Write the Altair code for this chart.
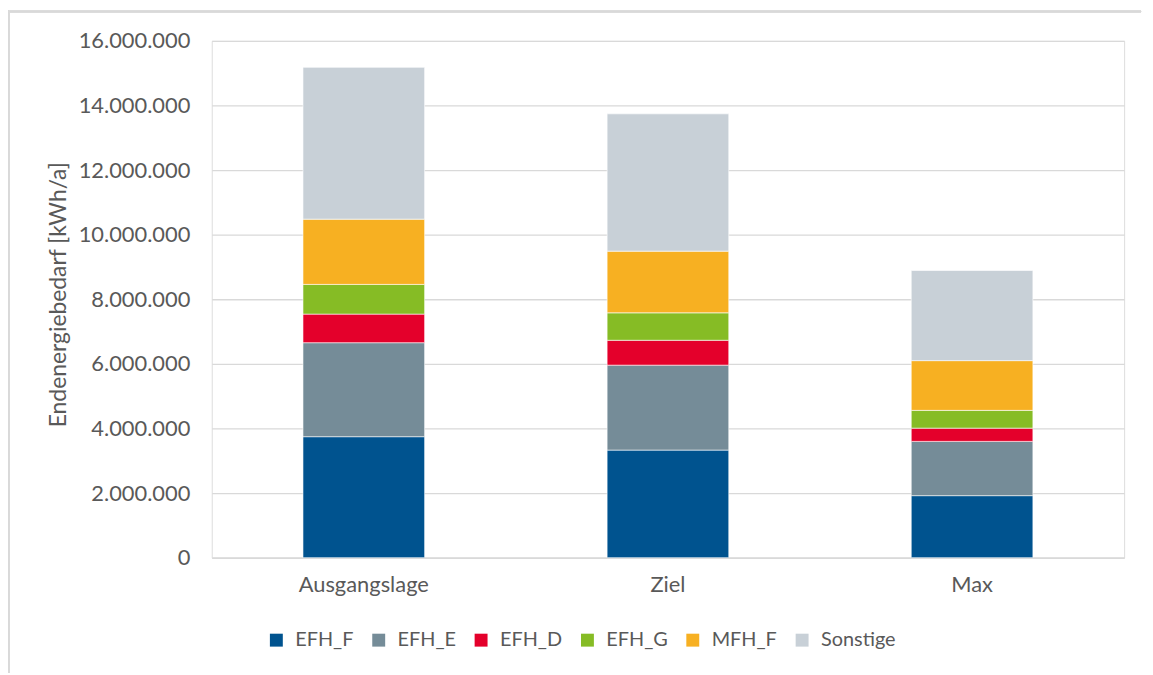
import altair as alt
import pandas as pd

categories = ["Ausgangslage", "Ziel", "Max"]
series = ["EFH_F", "EFH_E", "EFH_D", "EFH_G", "MFH_F", "Sonstige"]
colors = ["#00538F", "#758C98", "#E4002B", "#86BC25", "#F7B022", "#C8D0D7"]

EFH_F = [3745000, 3330000, 1920000]
EFH_E = [2910000, 2630000, 1680000]
EFH_D = [885000, 770000, 410000]
EFH_G = [920000, 850000, 550000]
MFH_F = [2020000, 1910000, 1540000]
Sonstige = [4700000, 4250000, 2790000]

values = {"EFH_F": EFH_F, "EFH_E": EFH_E, "EFH_D": EFH_D,
          "EFH_G": EFH_G, "MFH_F": MFH_F, "Sonstige": Sonstige}

rows = []
for si, s in enumerate(series):
    for ci, c in enumerate(categories):
        rows.append({"Kategorie": c, "Serie": s, "Wert": values[s][ci], "ord": si})
df = pd.DataFrame(rows)

FONT = "Lato"
GRAY = "#595959"
FS = 22

bars = alt.Chart(df).mark_bar(stroke="white", strokeWidth=0.6).encode(
    x=alt.X("Kategorie:N", sort=categories,
            scale=alt.Scale(paddingInner=0.6, paddingOuter=0.3),
            axis=alt.Axis(title=None, labelAngle=0, labelFontSize=FS, labelColor=GRAY,
                          labelFont=FONT, labelPadding=17, ticks=False,
                          domainColor="#D9D9D9", domainWidth=1.3)),
    y=alt.Y("Wert:Q", stack="zero",
            scale=alt.Scale(domain=[0, 16000000], nice=False),
            axis=alt.Axis(title="Endenergiebedarf [kWh/a]", values=list(range(0, 16000001, 2000000)),
                          labelExpr="join(split(format(datum.value, ','), ','), '.')",
                          labelFontSize=FS, labelColor=GRAY, labelFont=FONT, labelPadding=22,
                          ticks=False, domain=False, gridColor="#D9D9D9", gridWidth=1.3,
                          titleFont=FONT, titleFontSize=23, titleColor=GRAY, titleFontWeight="normal",
                          titleX=-154, titleY=255, titleAngle=270, titleAlign="center",
                          titleBaseline="middle")),
    color=alt.Color("Serie:N", sort=series,
                    scale=alt.Scale(domain=series, range=colors),
                    legend=alt.Legend(title=None, orient="none", direction="horizontal",
                                      legendX=55, legendY=593, padding=0, symbolType="square",
                                      symbolSize=169, symbolStrokeWidth=0,
                                      labelFontSize=20, labelColor=GRAY, labelFont=FONT,
                                      columnPadding=15, labelOffset=9)),
    order=alt.Order("ord:Q", sort="ascending"),
)

frame_top = alt.Chart(df).mark_rule(color="#D9D9D9", strokeWidth=1.5, clip=False).encode(
    x=alt.value(-204.5), x2=alt.value(935), y=alt.value(-29.5))
frame_left = alt.Chart(df).mark_rule(color="#D9D9D9", strokeWidth=1.5, clip=False).encode(
    x=alt.value(-204.5), y=alt.value(-29.5), y2=alt.value(636))

chart = alt.layer(frame_top, frame_left, bars).properties(
    width=918, height=520,
    autosize=alt.AutoSizeParams(type="none"),
    padding={"left": 205, "top": 31, "right": 21, "bottom": 115},
).configure_view(stroke=None).configure(background="white")

chart.save("out.html", embed_options={"renderer": "svg", "actions": False})
